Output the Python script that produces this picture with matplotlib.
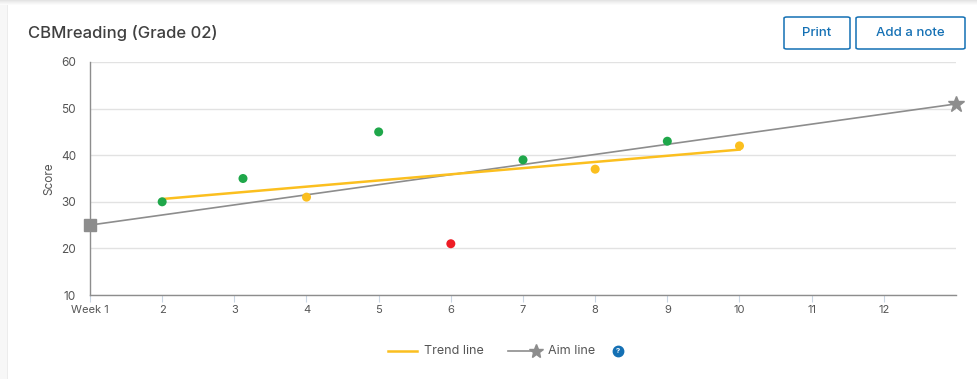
import numpy as np
import matplotlib.pyplot as plt
from matplotlib.patches import FancyBboxPatch, Rectangle
from matplotlib.lines import Line2D

# ================================
# DATA
# ================================
weeks = [2, 3.12, 4, 5, 6, 7, 8, 9, 10]
scores = [30, 35, 31, 45, 21, 39, 37, 43, 42]
status = ["above", "above", "near", "above", "below", "above", "near", "above", "near"]

trend_weeks = [2, 10]
trend_scores = [30.6, 41.2]

aim_weeks = [1, 13]
aim_scores = [25, 51]

tick_weeks = list(range(1, 13))
tick_labels = ["Week 1"] + [str(w) for w in range(2, 13)]
y_ticks = [10, 20, 30, 40, 50, 60]

STATUS_COLORS = {"above": "#1fa74a", "near": "#fbbf1f", "below": "#ee1c25"}
GREY = "#8d8d8d"
YELLOW = "#fbbf1f"
BLUE = "#1470b4"
TEXT = "#555555"

plt.rcParams["font.family"] = ["Inter", "DejaVu Sans"]

W, H = 978, 379
fig = plt.figure(figsize=(W / 100, H / 100), dpi=100)
fig.patch.set_facecolor("white")

# card edges (top shadow, left border)
for i, c in enumerate(["#e4e4e4", "#ebebeb", "#f1f1f1", "#f6f6f6", "#fbfbfb"]):
    fig.patches.append(Rectangle((0, 1 - (i + 1) / H), 1, 1 / H, transform=fig.transFigure,
                                 facecolor=c, edgecolor="none"))
fig.patches.append(Rectangle((0, 0), 7 / W, 1 - 5 / H, transform=fig.transFigure,
                             facecolor="#f7f7f7", edgecolor="none"))
fig.patches.append(Rectangle((7 / W, 0), 1 / W, 1 - 5 / H, transform=fig.transFigure,
                             facecolor="#ececec", edgecolor="none"))

# title
fig.text(28 / W, 1 - 33 / H, "CBMreading (Grade 02)", fontsize=12, color="#404040",
         fontweight="medium", va="center", ha="left")

# buttons
def button(x0, x1, label):
    y0, y1 = 17, 49
    fig.patches.append(FancyBboxPatch((x0 / W, 1 - y1 / H), (x1 - x0) / W, (y1 - y0) / H,
                                      boxstyle="round,pad=0,rounding_size=0.003",
                                      transform=fig.transFigure, facecolor="white",
                                      edgecolor=BLUE, linewidth=1.1))
    fig.text((x0 + x1) / 2 / W, 1 - 33 / H, label, fontsize=9.5, color=BLUE,
             fontweight="medium", ha="center", va="center")

button(784, 850, "Print")
button(856, 965, "Add a note")

# ================================
# AXES
# ================================
ax = fig.add_axes([90 / W, 1 - 295 / H, (956 - 90) / W, (295 - 62) / H])
ax.set_xlim(1, 13)
ax.set_ylim(10, 60)

ax.set_yticks(y_ticks)
ax.grid(axis="y", color="#e2e2e2", linewidth=1)
ax.set_axisbelow(True)
ax.set_xticks(tick_weeks)
ax.set_xticklabels(tick_labels)
ax.tick_params(axis="x", length=5, color="#c9d6e3", labelsize=8, labelcolor=TEXT, pad=2)
ax.tick_params(axis="y", length=0, labelsize=8.5, labelcolor=TEXT, pad=10)

for s in ["top", "right"]:
    ax.spines[s].set_visible(False)
for s in ["left", "bottom"]:
    ax.spines[s].set_color(GREY)
    ax.spines[s].set_linewidth(1)

ax.set_ylabel("Score", fontsize=8.5, color=TEXT, labelpad=4)

# aim line
ax.plot(aim_weeks, aim_scores, color=GREY, linewidth=1.2, zorder=3, clip_on=False)
ax.plot(aim_weeks[0], aim_scores[0], marker="s", markersize=9, color=GREY, zorder=4, clip_on=False)
ax.plot(aim_weeks[1], aim_scores[1], marker="*", markersize=12, color=GREY, zorder=4, clip_on=False)

# trend line
ax.plot(trend_weeks, trend_scores, color=YELLOW, linewidth=1.8, zorder=3)

# scores
ax.scatter(weeks, scores, s=42, c=[STATUS_COLORS[s] for s in status], zorder=5,
           edgecolors="none")

# ================================
# LEGEND
# ================================
ly = 1 - 351 / H
fig.lines.append(Line2D([388 / W, 417 / W], [ly, ly], transform=fig.transFigure,
                        color=YELLOW, linewidth=1.8))
fig.text(424 / W, ly, "Trend line", fontsize=9, color=TEXT, va="center", ha="left")
fig.lines.append(Line2D([508 / W, 532 / W], [ly, ly], transform=fig.transFigure,
                        color=GREY, linewidth=1.2))
fig.lines.append(Line2D([536 / W], [ly], transform=fig.transFigure, color=GREY,
                        marker="*", markersize=10, linestyle="none"))
fig.text(548 / W, ly, "Aim line", fontsize=9, color=TEXT, va="center", ha="left")
fig.lines.append(Line2D([618 / W], [ly], transform=fig.transFigure, color=BLUE,
                        marker="o", markersize=7.5, linestyle="none"))
fig.text(618 / W, ly, "?", fontsize=5.5, color="white", fontweight="bold",
         va="center", ha="center")

fig.savefig("out.png", dpi=100)
